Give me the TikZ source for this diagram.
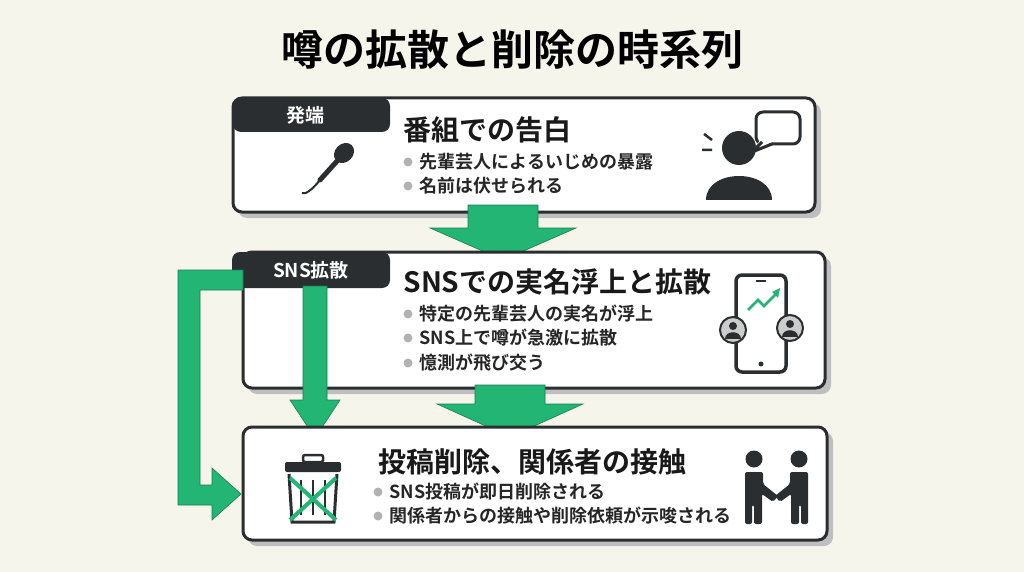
\documentclass[tikz,border=0pt]{standalone}
\usepackage{fontspec}
\setmainfont{Noto Sans CJK JP}
\newfontfamily\jb{Noto Sans CJK JP Bold}
\usetikzlibrary{arrows.meta}
\definecolor{grn}{HTML}{22B573}
\definecolor{drk}{HTML}{2B2E30}
\definecolor{bg}{HTML}{F6F5EC}
\begin{document}
\begin{tikzpicture}[x=1pt,y=-1pt,
 box/.style={draw=drk,line width=3pt,fill=white,rounded corners=9pt},
 shadow/.style={fill=black!25,rounded corners=9pt},
 tab/.style={fill=drk,rounded corners=8pt},
 tabtxt/.style={text=white,font=\jb\fontsize{19}{19}\selectfont},
 ttl/.style={anchor=west,font=\jb\fontsize{28}{28}\selectfont,text=black!90},
 bul/.style={anchor=west,font=\jb\fontsize{18}{18}\selectfont,text=black!85},
 dot/.style={fill=black!30,draw=none},
 arr/.style={fill=grn,draw=grn!70!black,line width=0.6pt}]
\fill[bg] (0,0) rectangle (1024,572);
\useasboundingbox (0,0) rectangle (1024,572);
\node[font=\jb\fontsize{42}{42}\selectfont] (title) at (512,50) {噂の拡散と削除の時系列};
% box1
\fill[shadow] (238,103) rectangle (821,218);
\draw[box] (233,98) rectangle (815,212);
\fill[tab] (233,98) rectangle (390,132);
\node[tabtxt] (t1) at (305,115) {発端};
\node[ttl] (h1) at (400,130) {番組での告白};
\fill[dot] (408,162) circle (4.5); \node[bul] (b11) at (416,162) {先輩芸人によるいじめの暴露};
\fill[dot] (408,186) circle (4.5); \node[bul] (b12) at (416,186) {名前は伏せられる};
% mic
\draw[drk,line width=5pt,line cap=round] (320,180) -- (338,160);
\fill[drk,rotate around={-45:(344,153)}] (344,153) ellipse (9 and 11);
\draw[drk,line width=2pt] (320,180) .. controls (312,190) and (305,195) .. (302,193);
% person + bubble
\fill[drk] (739,148) circle (17);
\fill[drk] (706,200) .. controls (706,168) and (772,168) .. (772,200) -- cycle;
\draw[drk,line width=3pt,fill=white,rounded corners=7pt] (756,112) rectangle (800,144);
\fill[white] (760,140) -- (752,152) -- (772,142) -- cycle;
\draw[drk,line width=3pt] (762,142) -- (752,152) -- (772,144);
\draw[drk,line width=2.5pt] (712,140)--(704,134) (712,150)--(702,150);
% arrow 1
\draw[arr] (468,205) -- (538,205) -- (538,228) -- (576,228) -- (503,260) -- (430,228) -- (468,228) -- cycle;
% box2
\fill[shadow] (248,257) rectangle (831,394);
\draw[box] (243,252) rectangle (825,388);
\fill[tab] (232,252) rectangle (390,288);
\node[tabtxt] (t2) at (311,270) {SNS拡散};
\node[ttl] (h2) at (400,282) {SNSでの実名浮上と拡散};
\fill[dot] (408,314) circle (4.5); \node[bul] (b21) at (416,314) {特定の先輩芸人の実名が浮上};
\fill[dot] (408,338) circle (4.5); \node[bul] (b22) at (416,338) {SNS上で噂が急激に拡散};
\fill[dot] (408,363) circle (4.5); \node[bul] (b23) at (416,363) {憶測が飛び交う};
% phone
\draw[drk,line width=3.5pt,rounded corners=6pt] (736,275) rectangle (786,372);
\draw[drk,line width=2pt] (756,281)--(766,281);
\fill[drk] (761,364) circle (2.5);
\draw[grn,line width=2.5pt] (748,310)--(758,300)--(764,306)--(778,292);
\fill[grn] (780,288)--(772,292)--(778,298)--cycle;
\foreach \cx/\cy in {733/330,790/328}{
 \draw[drk,line width=2pt,fill=black!20] (\cx,\cy) circle (13);
 \fill[drk] (\cx,\cy-4) circle (4);
 \fill[drk] (\cx-8,\cy+9) .. controls (\cx-8,\cy) and (\cx+8,\cy) .. (\cx+8,\cy+9) -- cycle;}
% arrow 2
\draw[arr] (475,385) -- (545,385) -- (545,404) -- (583,404) -- (510,437) -- (437,404) -- (475,404) -- cycle;
% left arrows
\draw[arr] (303,286) -- (327,286) -- (327,400) -- (340,400) -- (315,438) -- (290,400) -- (303,400) -- cycle;
\draw[arr] (243,270) -- (243,290) -- (200,290) -- (200,485) -- (212,485) -- (212,468) -- (241,494) -- (212,520) -- (212,505) -- (178,505) -- (178,270) -- cycle;
% box3
\fill[shadow] (248,432) rectangle (833,546);
\draw[box] (243,427) rectangle (827,540);
\node[ttl] (h3) at (375,462) {投稿削除、関係者の接触};
\fill[dot] (378,492) circle (4.5); \node[bul] (b31) at (386,492) {SNS投稿が即日削除される};
\fill[dot] (378,516) circle (4.5); \node[bul] (b32) at (386,516) {関係者からの接触や削除依頼が示唆される};
% trash
\draw[drk,line width=2.5pt,rounded corners=2pt] (303,455) rectangle (323,462);
\fill[drk,rounded corners=2pt] (285,462) rectangle (341,472);
\draw[drk,line width=3pt] (289,474) -- (292,522) -- (334,522) -- (337,474);
\foreach \xx in {301,313,325} \draw[drk,line width=2.5pt] (\xx,480)--(\xx,515);
\draw[grn,line width=4pt] (290,478)--(336,520) (336,478)--(290,520);
% handshake
\fill[drk] (754,459) circle (8.5); \fill[drk] (799,459) circle (8.5);
\fill[drk,rounded corners=2pt] (745,472) -- (763,472) -- (763,484) -- (778,496) -- (773,502) -- (762,494) -- (762,524) -- (754,524) -- (754,505) -- (752,505) -- (752,524) -- (745,524) -- cycle;
\fill[drk,rounded corners=2pt] (808,472) -- (790,472) -- (790,484) -- (775,496) -- (780,502) -- (791,494) -- (791,524) -- (799,524) -- (799,505) -- (801,505) -- (801,524) -- (808,524) -- cycle;
\end{tikzpicture}
\end{document}
